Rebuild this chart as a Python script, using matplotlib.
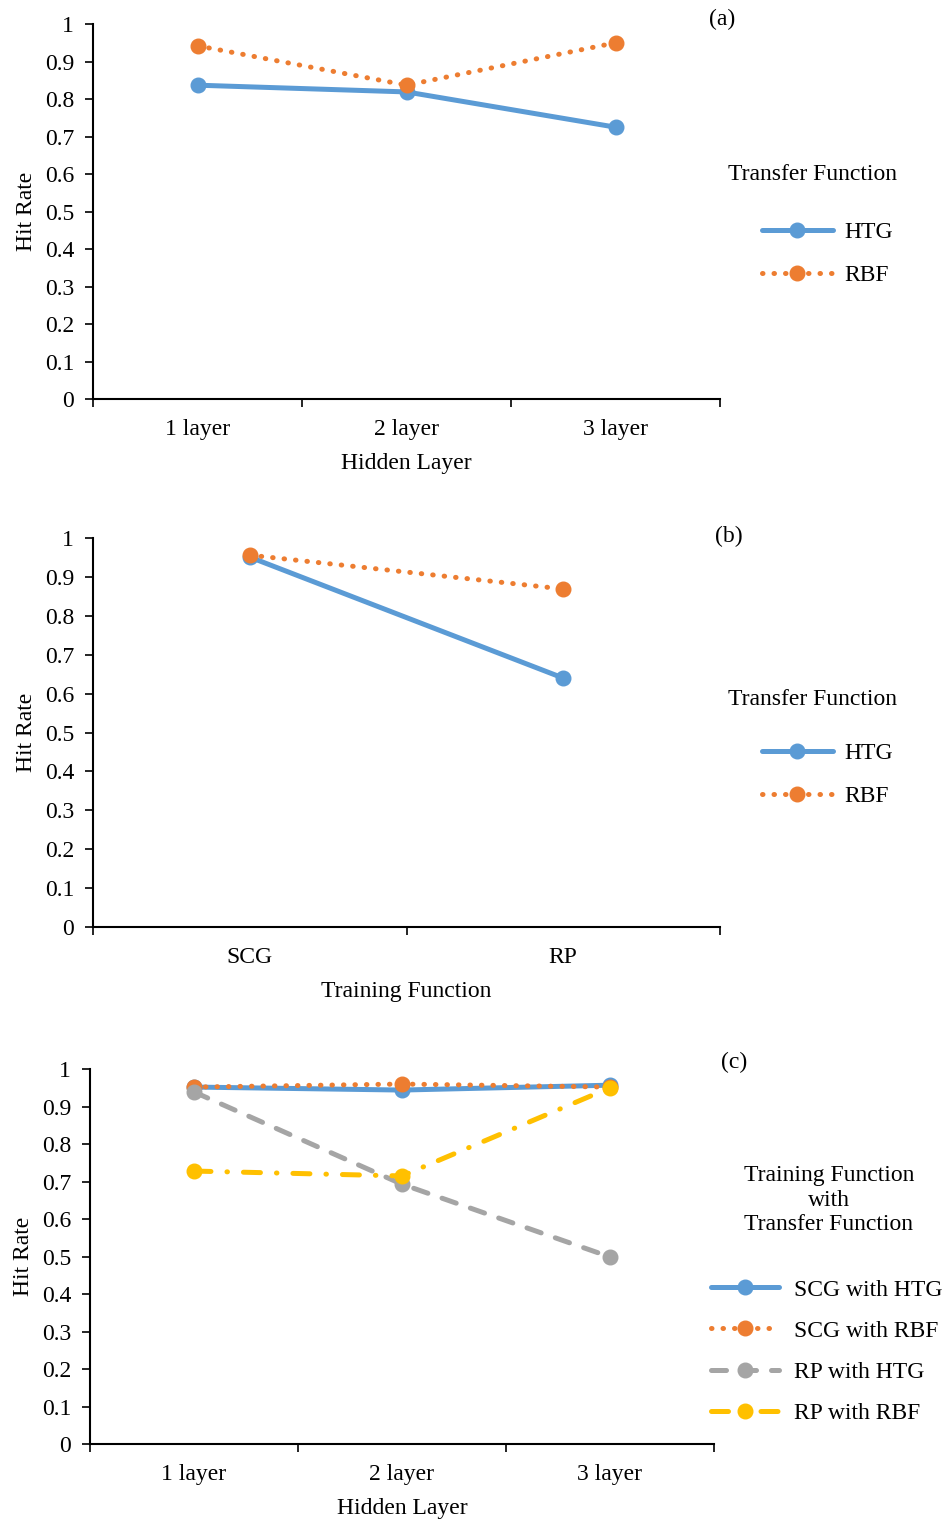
import matplotlib
matplotlib.use("Agg")
import matplotlib.pyplot as plt
from matplotlib.ticker import FuncFormatter

# --------------------------------------------------------------
# Data
# --------------------------------------------------------------
layers = ["1 layer", "2 layer", "3 layer"]
train_funcs = ["SCG", "RP"]

a_htg = [0.837, 0.819, 0.725]
a_rbf = [0.942, 0.837, 0.950]

b_htg = [0.951, 0.640]
b_rbf = [0.956, 0.869]

c_scg_htg = [0.952, 0.944, 0.957]
c_scg_rbf = [0.952, 0.960, 0.952]
c_rp_htg = [0.939, 0.693, 0.499]
c_rp_rbf = [0.728, 0.715, 0.950]

y_ticks = [i / 10 for i in range(11)]

# --------------------------------------------------------------
# Style
# --------------------------------------------------------------
plt.rcParams['font.family'] = ['Liberation Serif', 'DejaVu Serif']
FS = 17
BLUE, ORANGE, GRAY, YELLOW = '#5B9BD5', '#ED7D31', '#A5A5A5', '#FFC000'
LW, MS = 3.6, 10.5

styles = {
    'solid': dict(color=BLUE, linestyle='-', solid_capstyle='round'),
    'dot': dict(color=ORANGE, linestyle=(0, (0.1, 2.2)), dash_capstyle='round'),
    'dash': dict(color=GRAY, linestyle=(0, (3, 3)), dash_capstyle='round'),
    'dashdot': dict(color=YELLOW, linestyle=(0, (3.4, 3.2, 0.1, 3.2)), dash_capstyle='round'),
}

fig = plt.figure(figsize=(9.48, 15.22), dpi=100)


def setup_axes(rect, cats, xlabel):
    ax = fig.add_axes(rect)
    n = len(cats)
    ax.set_xlim(-0.5, n - 0.5)
    ax.set_ylim(0, 1)
    ax.spines['top'].set_visible(False)
    ax.spines['right'].set_visible(False)
    for s in ('left', 'bottom'):
        ax.spines[s].set_linewidth(1.5)
    ax.set_yticks(y_ticks)
    ax.yaxis.set_major_formatter(FuncFormatter(lambda v, p: f'{v:g}'))
    ax.tick_params(axis='y', length=5.5, width=1.2, pad=8, labelsize=FS)
    # tick marks at category boundaries, labels at category centres
    ax.set_xticks([i - 0.5 for i in range(n + 1)])
    ax.set_xticklabels([])
    ax.set_xticks(range(n), minor=True)
    ax.set_xticklabels(cats, minor=True, fontsize=FS)
    ax.tick_params(axis='x', which='major', length=6, width=1.2)
    ax.tick_params(axis='x', which='minor', length=0, pad=14.5)
    ax.set_xlabel(xlabel, fontsize=FS, labelpad=9)
    ax.set_ylabel('Hit Rate', fontsize=FS, labelpad=6)
    return ax


def draw(ax, vals, style, label):
    return ax.plot(range(len(vals)), vals, lw=LW, marker='o', ms=MS,
                   label=label, **styles[style])[0]


def add_legend(ax, handles, x, y, hl, tp, ls):
    ax.legend(handles=handles, loc='center left', bbox_to_anchor=(x, y),
              bbox_transform=fig.transFigure, frameon=False, fontsize=FS,
              handlelength=hl, handletextpad=tp, labelspacing=ls,
              borderpad=0, borderaxespad=0, numpoints=1)


# ---------- (a) ----------
ax1 = setup_axes([0.0981, 0.7378, 0.6614, 0.2464], layers, 'Hidden Layer')
h1 = draw(ax1, a_htg, 'solid', 'HTG')
h2 = draw(ax1, a_rbf, 'dot', 'RBF')
add_legend(ax1, [h1, h2], 0.8038, 1 - 254 / 1522, 3.0, 0.5, 0.92)
fig.text(812 / 948, 1 - 175 / 1522, 'Transfer Function', ha='center', va='center', fontsize=FS)
fig.text(722 / 948, 1 - 19 / 1522, '(a)', ha='center', va='center', fontsize=FS)

# ---------- (b) ----------
ax2 = setup_axes([0.0981, 0.3909, 0.6614, 0.2556], train_funcs, 'Training Function')
h1 = draw(ax2, b_htg, 'solid', 'HTG')
h2 = draw(ax2, b_rbf, 'dot', 'RBF')
add_legend(ax2, [h1, h2], 0.8038, 1 - 775 / 1522, 3.0, 0.5, 0.92)
fig.text(812 / 948, 1 - 699 / 1522, 'Transfer Function', ha='center', va='center', fontsize=FS)
fig.text(729 / 948, 1 - 536 / 1522, '(b)', ha='center', va='center', fontsize=FS)

# ---------- (c) ----------
ax3 = setup_axes([0.0949, 0.0512, 0.6582, 0.2464], layers, 'Hidden Layer')
hs = [draw(ax3, c_scg_htg, 'solid', 'SCG with HTG'),
      draw(ax3, c_scg_rbf, 'dot', 'SCG with RBF'),
      draw(ax3, c_rp_htg, 'dash', 'RP with HTG'),
      draw(ax3, c_rp_rbf, 'dashdot', 'RP with RBF')]
add_legend(ax3, hs, 711 / 948, 1 - 1351.5 / 1522, 2.9, 0.6, 0.83)
fig.text(829 / 948, 1 - 1200 / 1522, 'Training Function\nwith\nTransfer Function',
         ha='center', va='center', fontsize=FS, linespacing=1.25)
fig.text(734 / 948, 1 - 1062 / 1522, '(c)', ha='center', va='center', fontsize=FS)

fig.savefig('out.png', dpi=100)
